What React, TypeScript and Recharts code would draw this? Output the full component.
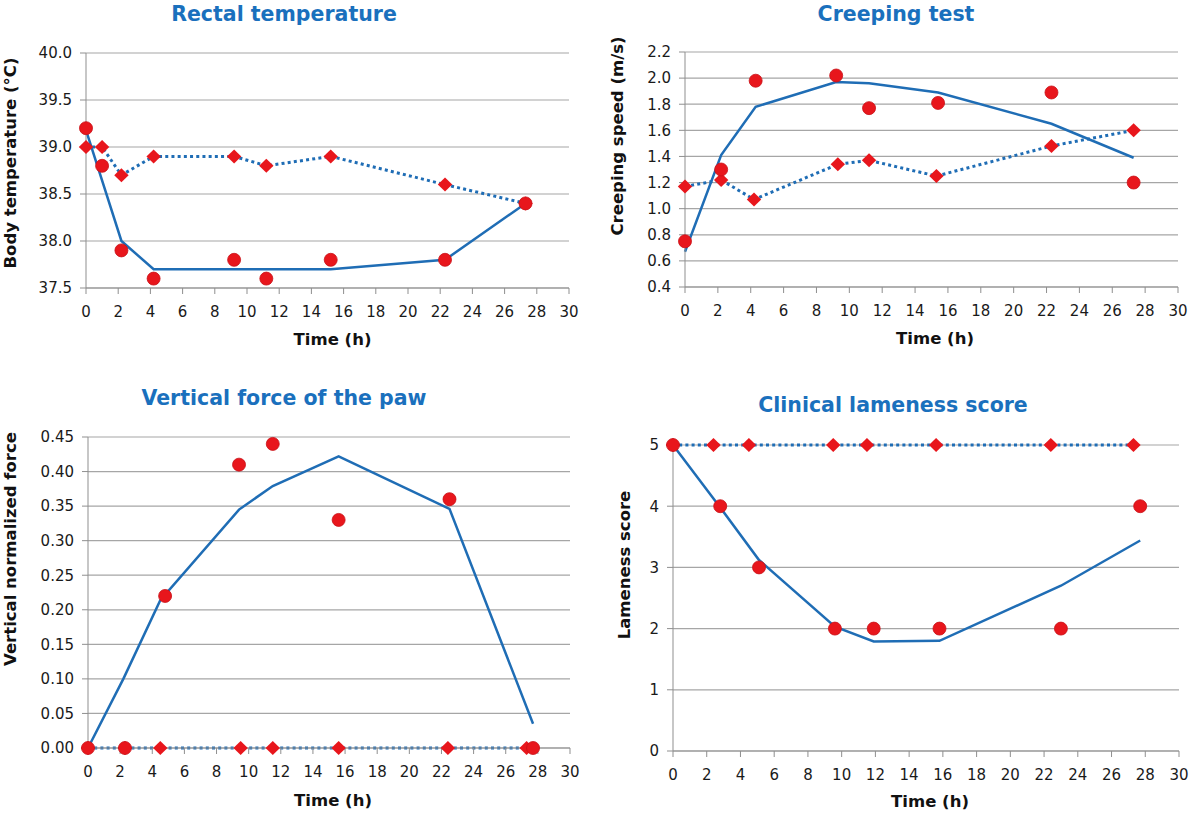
import { LineChart, Line, XAxis, YAxis, CartesianGrid } from 'recharts';

const BLUE = '#1f6db5';
const TITLE_BLUE = '#1a70bd';
const RED = '#e8161c';
const RED_EDGE = '#c81016';
const GRID = '#a6a6a6';
const AXIS = '#8f8f8f';
const FONT = '"DejaVu Sans", sans-serif';

const HOURS = [0, 2, 4, 6, 8, 10, 12, 14, 16, 18, 20, 22, 24, 26, 28, 30];

// Rectal temperature
const tempTimes = [0, 1, 2.2, 4.2, 9.2, 11.2, 15.2, 22.3, 27.3];
const tempCircles = [39.2, 38.8, 37.9, 37.6, 37.8, 37.6, 37.8, 37.8, 38.4];
const tempDiamonds = [39.0, 39.0, 38.7, 38.9, 38.9, 38.8, 38.9, 38.6, 38.4];
const tempLineTimes = [0, 2.2, 4.2, 9.2, 11.2, 15.2, 22.3, 27.3];
const tempLine = [39.18, 38.0, 37.7, 37.7, 37.7, 37.7, 37.8, 38.4];
const tempTicks = [37.5, 38.0, 38.5, 39.0, 39.5, 40.0];

// Creeping test
const creepCircleTimes = [0, 2.2, 4.3, 9.2, 11.2, 15.4, 22.3, 27.3];
const creepCircles = [0.75, 1.3, 1.98, 2.02, 1.77, 1.81, 1.89, 1.2];
const creepDiamondTimes = [0, 2.2, 4.2, 9.3, 11.2, 15.3, 22.3, 27.3];
const creepDiamonds = [1.17, 1.22, 1.07, 1.34, 1.37, 1.25, 1.48, 1.6];
const creepLine = [0.67, 1.41, 1.78, 1.97, 1.96, 1.89, 1.65, 1.39];
const creepTicks = [0.4, 0.6, 0.8, 1.0, 1.2, 1.4, 1.6, 1.8, 2.0, 2.2];

// Vertical force of the paw
const forceCircleTimes = [0, 2.3, 4.8, 9.4, 11.5, 15.6, 22.5, 27.7];
const forceCircles = [0, 0, 0.22, 0.41, 0.44, 0.33, 0.36, 0];
const forceDiamondTimes = [0, 2.3, 4.5, 9.5, 11.5, 15.6, 22.4, 27.3];
const forceDiamonds = [0, 0, 0, 0, 0, 0, 0, 0];
const forceLineTimes = [0, 2.2, 4.5, 9.4, 11.5, 15.6, 22.5, 27.7];
const forceLine = [0, 0.1, 0.214, 0.345, 0.379, 0.422, 0.346, 0.035];
const forceTicks = [0, 0.05, 0.1, 0.15, 0.2, 0.25, 0.3, 0.35, 0.4, 0.45];

// Clinical lameness score
const lameDiamondTimes = [0, 2.4, 4.5, 9.5, 11.5, 15.6, 22.4, 27.3];
const lameDiamonds = [5, 5, 5, 5, 5, 5, 5, 5];
const lameCircleTimes = [0, 2.8, 5.1, 9.6, 11.9, 15.8, 23.0, 27.7];
const lameCircles = [5, 4, 3, 2, 2, 2, 2, 4];
const lameLine = [5, 3.98, 3.12, 2.03, 1.79, 1.8, 2.7, 3.44];
const lameTicks = [0, 1, 2, 3, 4, 5];

const pts = (ts: number[], vs: number[]) => ts.map((t, i) => ({ t, v: vs[i] }));

const TICK = { fontSize: 15, fill: '#1a1a1a', fontFamily: FONT };

const renderCircle = (p: any) => {
  if (p.cx == null || p.cy == null) return <g key={`c-${p.index}`} />;
  return <circle key={`c-${p.index}`} cx={p.cx} cy={p.cy} r={6.5} fill={RED} stroke={RED_EDGE} strokeWidth={0.8} />;
};

const renderDiamond = (p: any) => {
  if (p.cx == null || p.cy == null) return <g key={`d-${p.index}`} />;
  const { cx, cy } = p;
  return (
    <path
      key={`d-${p.index}`}
      d={`M${cx},${cy - 7}L${cx + 7.2},${cy}L${cx},${cy + 7}L${cx - 7.2},${cy}Z`}
      fill={RED}
      stroke="none"
    />
  );
};

type Rect = { x: number; y: number; w: number; h: number };

interface PanelProps {
  rect: Rect;
  domain: [number, number];
  ticks: number[];
  decimals: number;
  trend: { t: number; v: number }[];
  control: { t: number; v: number }[];
  treated: { t: number; v: number }[];
}

function Panel({ rect, domain, ticks, decimals, trend, control, treated }: PanelProps) {
  const yw = 70;
  return (
    <div style={{ position: 'absolute', left: rect.x - yw, top: rect.y - 10 }}>
      <LineChart
        width={rect.w + yw + 12}
        height={rect.h + 10 + 40}
        margin={{ top: 10, right: 12, left: 0, bottom: 0 }}
      >
        <CartesianGrid vertical={false} stroke={GRID} strokeWidth={1.2} />
        <XAxis
          type="number"
          dataKey="t"
          domain={[0, 30]}
          ticks={HOURS}
          interval={0}
          height={40}
          tickSize={6}
          tickMargin={12}
          stroke={AXIS}
          tick={TICK}
        />
        <YAxis
          type="number"
          domain={domain}
          ticks={ticks}
          interval={0}
          width={yw}
          tickSize={6}
          tickMargin={8}
          stroke={AXIS}
          tick={TICK}
          tickFormatter={(v: number) => v.toFixed(decimals)}
        />
        <Line
          data={trend}
          dataKey="v"
          stroke={BLUE}
          strokeWidth={2.5}
          dot={false}
          activeDot={false}
          isAnimationActive={false}
        />
        <Line
          data={control}
          dataKey="v"
          stroke={BLUE}
          strokeWidth={3}
          strokeDasharray="3 3.2"
          dot={renderDiamond}
          activeDot={false}
          isAnimationActive={false}
        />
        <Line
          data={treated}
          dataKey="v"
          stroke="none"
          dot={renderCircle}
          activeDot={false}
          isAnimationActive={false}
        />
      </LineChart>
    </div>
  );
}

const titles = [
  { text: 'Rectal temperature', x: 284, y: 21 },
  { text: 'Creeping test', x: 896, y: 20.5 },
  { text: 'Vertical force of the paw', x: 284, y: 405 },
  { text: 'Clinical lameness score', x: 893, y: 411.5 },
];

const yLabels = [
  { text: 'Body temperature (°C)', x: 16, y: 163 },
  { text: 'Creeping speed (m/s)', x: 623, y: 136 },
  { text: 'Vertical normalized force', x: 16, y: 549 },
  { text: 'Lameness score', x: 630, y: 565 },
];

const xLabels = [
  { x: 332.5, y: 345 },
  { x: 935, y: 344 },
  { x: 333, y: 806 },
  { x: 930, y: 807 },
];

export default function App() {
  return (
    <div style={{ position: 'absolute', left: 0, top: 0, width: 1200, height: 813, background: '#fff' }}>
      <Panel
        rect={{ x: 86, y: 53, w: 483, h: 235 }}
        domain={[37.5, 40]}
        ticks={tempTicks}
        decimals={1}
        trend={pts(tempLineTimes, tempLine)}
        control={pts(tempTimes, tempDiamonds)}
        treated={pts(tempTimes, tempCircles)}
      />
      <Panel
        rect={{ x: 685, y: 52, w: 493, h: 235 }}
        domain={[0.4, 2.2]}
        ticks={creepTicks}
        decimals={1}
        trend={pts(creepCircleTimes, creepLine)}
        control={pts(creepDiamondTimes, creepDiamonds)}
        treated={pts(creepCircleTimes, creepCircles)}
      />
      <Panel
        rect={{ x: 88, y: 437, w: 482, h: 311 }}
        domain={[0, 0.45]}
        ticks={forceTicks}
        decimals={2}
        trend={pts(forceLineTimes, forceLine)}
        control={pts(forceDiamondTimes, forceDiamonds)}
        treated={pts(forceCircleTimes, forceCircles)}
      />
      <Panel
        rect={{ x: 673, y: 445, w: 506, h: 306 }}
        domain={[0, 5]}
        ticks={lameTicks}
        decimals={0}
        trend={pts(lameCircleTimes, lameLine)}
        control={pts(lameDiamondTimes, lameDiamonds)}
        treated={pts(lameCircleTimes, lameCircles)}
      />
      <svg
        width={1200}
        height={813}
        style={{ position: 'absolute', left: 0, top: 0, pointerEvents: 'none' }}
      >
        {titles.map((d) => (
          <text key={d.text} x={d.x} y={d.y} textAnchor="middle" fontFamily={FONT} fontWeight="bold" fontSize={20.5} fill={TITLE_BLUE}>
            {d.text}
          </text>
        ))}
        {yLabels.map((d) => (
          <text
            key={d.text}
            transform={`translate(${d.x},${d.y}) rotate(-90)`}
            textAnchor="middle"
            fontFamily={FONT}
            fontWeight="bold"
            fontSize={16.5}
            fill="#111"
          >
            {d.text}
          </text>
        ))}
        {xLabels.map((d, i) => (
          <text key={i} x={d.x} y={d.y} textAnchor="middle" fontFamily={FONT} fontWeight="bold" fontSize={16.5} fill="#111">
            Time (h)
          </text>
        ))}
      </svg>
    </div>
  );
}
